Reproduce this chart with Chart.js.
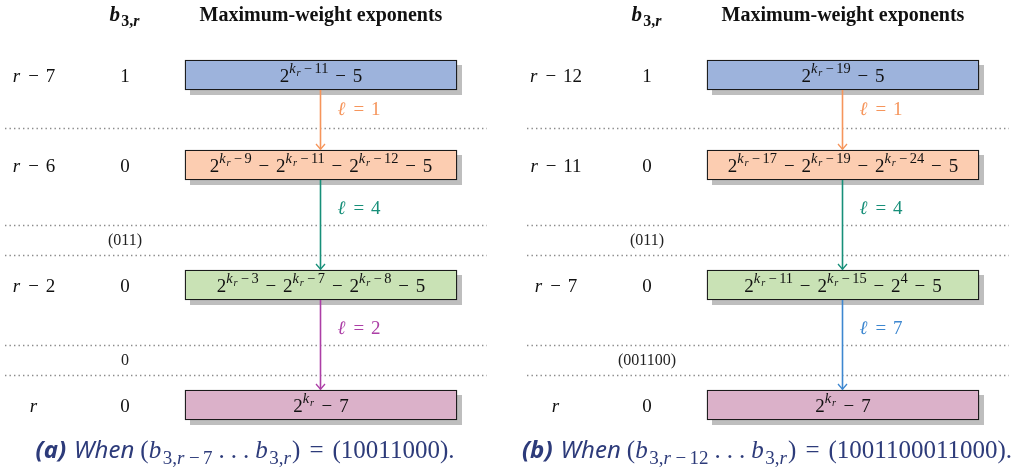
<!DOCTYPE html>
<html>
<head>
<meta charset="utf-8">
<script src="https://cdn.jsdelivr.net/npm/chart.js@4.4.0/dist/chart.umd.min.js"></script>
<style>
html, body { margin: 0; padding: 0; background: #fff; overflow: hidden; }
#wrap { position: relative; width: 1013px; height: 471px; }
canvas { position: absolute; top: 0; }
</style>
</head>
<body>
<div id="wrap">
  <canvas id="panelA" width="522" height="471" style="left:0"></canvas>
  <canvas id="panelB" width="491" height="471" style="left:522px"></canvas>
</div>
<script>
//---------------------------------------- DATA ----------------------------------------
// panel (a)
const rowsA = ['r-7', 'r-6', 'r-2', 'r']
const bitsA = ['1', '0', '0', '0']
const exprA = ['2^{k_r-11} - 5', '2^{k_r-9} - 2^{k_r-11} - 2^{k_r-12} - 5', '2^{k_r-3} - 2^{k_r-7} - 2^{k_r-8} - 5', '2^{k_r} - 7']
const stepsA = [1, 4, 2]
const gapBitsA = ['', '(011)', '0']
const captionA = ['(a)', '(b_{3,r-7}~~.~~.~~.~~b_{3,r}) = (10011000).']

// panel (b)
const rowsB = ['r-12', 'r-11', 'r-7', 'r']
const bitsB = ['1', '0', '0', '0']
const exprB = ['2^{k_r-19} - 5', '2^{k_r-17} - 2^{k_r-19} - 2^{k_r-24} - 5', '2^{k_r-11} - 2^{k_r-15} - 2^4 - 5', '2^{k_r} - 7']
const stepsB = [1, 4, 7]
const gapBitsB = ['', '(011)', '(001100)']
const captionB = ['(b)', '(b_{3,r-12}~~.~~.~~.~~b_{3,r}) = (1001100011000).']

// shared layout (row levels on the y scale)
const rowLevels = [0, 3, 7, 11]
const sepLevels = [1.77, 5, 6, 9, 10]
const stepLabelLevels = [1.1, 4.43, 8.43]
const gapLevels = [1.5, 5.5, 9.5]
const boxColors = ['#9db3dc', '#fccdb1', '#c9e2b5', '#dbb1c9']
const stepColorsA = ['#f6955b', '#178f79', '#ac3ea6']
const stepColorsB = ['#f6955b', '#178f79', '#3d87d0']

const COL_LABEL = 34, COL_BIT = 125, BOX_X = [185, 457], SEP_X = [5, 487], CAPTION_X = 245
const SERIF = '"Liberation Serif", "DejaVu Serif", serif'
const SANS = '"Noto Sans", "Open Sans", sans-serif'
const CAPTION_COLOR = '#2d3b7a'
const FS = 19

//---------------------------------------- MINI MATH TEXT ----------------------------------------
function parseMath(s, o, runs) {
    let i = 0
    while (i < s.length) {
        const c = s[i]
        if (c === '^' || c === '_') {
            i++
            let g
            if (s[i] === '{') {
                let d = 1, j = i + 1
                while (d > 0) { if (s[j] === '{') d++; else if (s[j] === '}') d--; j++ }
                g = s.slice(i + 1, j - 1)
                i = j
            } else { g = s[i]; i++ }
            const size = o.size * (o.script ? 0.72 : 0.76)
            const dy = o.dy + (c === '^' ? -o.size * 0.43 : o.size * (o.script ? 0.2 : 0.25))
            parseMath(g, { ...o, size, dy, script: true }, runs)
            continue
        }
        if (c === ' ') { i++; continue }
        if (c === '~') { runs.push({ t: '', pad: o.size * 0.12 }); i++; continue }
        if ('-=+'.includes(c)) {
            const pad = o.script ? o.size * 0.18 : o.size * 0.36
            runs.push({ t: c === '-' ? '\u2212' : c, size: o.size, dy: o.dy, bold: o.bold, padL: pad, padR: pad })
            i++
            continue
        }
        const letter = /[A-Za-z\u2113]/.test(c)
        let j = i + 1
        while (j < s.length && !'^_ ~-=+'.includes(s[j]) && /[A-Za-z\u2113]/.test(s[j]) === letter) j++
        runs.push({ t: s.slice(i, j), size: o.size, dy: o.dy, it: letter, bold: o.bold, padR: letter ? o.size * 0.06 : 0 })
        i = j
    }
    return runs
}

function math(s, size, bold) {
    return parseMath(s, { size, dy: 0, script: false, bold: !!bold }, [])
}

function fontOf(r) {
    return `${r.it ? 'italic ' : ''}${r.bold ? 'bold ' : ''}${r.size}px ${r.fam || SERIF}`
}

function drawRuns(ctx, runs, x, y, align, color) {
    let w = 0
    for (const r of runs) {
        let tw = 0
        if (r.t) { ctx.font = fontOf(r); tw = ctx.measureText(r.t).width }
        r.w = tw + (r.padL || 0) + (r.padR || 0) + (r.pad || 0)
        w += r.w
    }
    let cx = align === 'center' ? x - w / 2 : x
    ctx.fillStyle = color
    ctx.textAlign = 'left'
    ctx.textBaseline = 'alphabetic'
    for (const r of runs) {
        if (r.t) {
            ctx.font = fontOf(r)
            ctx.fillText(r.t, cx + (r.padL || 0), y + (r.dy || 0))
        }
        cx += r.w
    }
}

//---------------------------------------- DIAGRAM PLUGIN ----------------------------------------
function diagramPlugin(p) {
    return {
        id: 'diagram',
        beforeDatasetsDraw(chart) {
            const { ctx, scales: { x, y } } = chart
            const bars = chart.getDatasetMeta(0).data
            ctx.save()
            ctx.strokeStyle = '#8a8a8a'
            ctx.lineWidth = 1.4
            ctx.setLineDash([1.4, 3.1])
            sepLevels.forEach(lv => {
                const py = Math.round(y.getPixelForValue(lv)) + 0.5
                ctx.beginPath()
                ctx.moveTo(x.getPixelForValue(SEP_X[0]), py)
                ctx.lineTo(x.getPixelForValue(SEP_X[1]), py)
                ctx.stroke()
            })
            ctx.setLineDash([])
            // box shadows
            ctx.fillStyle = '#bebebe'
            bars.forEach(b => {
                ctx.fillRect(b.base + 5, b.y - b.height / 2 + 5, b.x - b.base, b.height)
            })
            ctx.restore()
        },
        afterDatasetsDraw(chart) {
            const { ctx, scales: { x, y } } = chart
            const bars = chart.getDatasetMeta(0).data
            ctx.save()

            // headers
            const hy = y.getPixelForValue(-2) + 6
            drawRuns(ctx, math('b_{3,r}', 21, true), x.getPixelForValue(COL_BIT), hy, 'center', '#111')
            drawRuns(ctx, [{ t: 'Maximum-weight exponents', size: 20, bold: true }], (bars[0].x + bars[0].base) / 2, hy, 'center', '#111')

            // rows
            bars.forEach((b, i) => {
                const by = b.y + 6.5
                drawRuns(ctx, math(p.rows[i], FS), x.getPixelForValue(COL_LABEL), by, 'center', '#111')
                drawRuns(ctx, math(p.bits[i], FS), x.getPixelForValue(COL_BIT), by, 'center', '#111')
                drawRuns(ctx, math(p.exprs[i], FS), (b.x + b.base) / 2, by, 'center', '#111')
            })

            // arrows and step labels
            p.steps.forEach((s, i) => {
                const a = bars[i], c = bars[i + 1]
                const ax = Math.round((a.x + a.base) / 2) - 0.5
                const y0 = a.y + a.height / 2, y1 = c.y - c.height / 2
                ctx.strokeStyle = p.stepColors[i]
                ctx.lineWidth = 1.6
                ctx.beginPath()
                ctx.moveTo(ax, y0)
                ctx.lineTo(ax, y1 - 0.5)
                ctx.stroke()
                ctx.lineWidth = 1.3
                ctx.beginPath()
                ctx.moveTo(ax - 4.5, y1 - 6)
                ctx.lineTo(ax, y1 - 0.8)
                ctx.lineTo(ax + 4.5, y1 - 6)
                ctx.stroke()
                drawRuns(ctx, math('\u2113 = ' + s, FS), ax + 17, y.getPixelForValue(stepLabelLevels[i]) + 6.5, 'left', p.stepColors[i])
            })

            // bits of the skipped runs
            p.gapBits.forEach((g, i) => {
                if (!g) return
                drawRuns(ctx, math(g, 16), x.getPixelForValue(COL_BIT), y.getPixelForValue(gapLevels[i]) + 5, 'center', '#222')
            })

            // caption
            const cap = [
                { t: p.caption[0], size: 24, it: true, bold: true, fam: SANS },
                { t: '', pad: 8 },
                { t: 'When', size: 24, it: true, fam: SANS },
                { t: '', pad: 6 },
                ...math(p.caption[1], 25)
            ]
            drawRuns(ctx, cap, x.getPixelForValue(CAPTION_X), y.getPixelForValue(12.5) + 8, 'center', CAPTION_COLOR)
            ctx.restore()
        }
    }
}

function makePanel(id, p) {
    const canvas = document.getElementById(id)
    return new Chart(canvas, {
        type: 'bar',
        data: {
            datasets: [{
                data: rowLevels.map(lv => ({ x: BOX_X, y: lv })),
                backgroundColor: boxColors,
                borderColor: '#1a1a1a',
                borderWidth: 1.3,
                borderSkipped: false,
                barThickness: 30
            }]
        },
        options: {
            indexAxis: 'y',
            responsive: false,
            animation: false,
            events: [],
            layout: { padding: 0 },
            scales: {
                x: { type: 'linear', min: 0, max: canvas.width, display: false, offset: false },
                y: { type: 'linear', min: -2.5, max: 13.2, reverse: true, display: false, offset: false }
            },
            plugins: { legend: { display: false }, tooltip: { enabled: false } }
        },
        plugins: [diagramPlugin(p)]
    })
}

makePanel('panelA', { rows: rowsA, bits: bitsA, exprs: exprA, steps: stepsA, stepColors: stepColorsA, gapBits: gapBitsA, caption: captionA })
makePanel('panelB', { rows: rowsB, bits: bitsB, exprs: exprB, steps: stepsB, stepColors: stepColorsB, gapBits: gapBitsB, caption: captionB })
</script>
</body>
</html>
